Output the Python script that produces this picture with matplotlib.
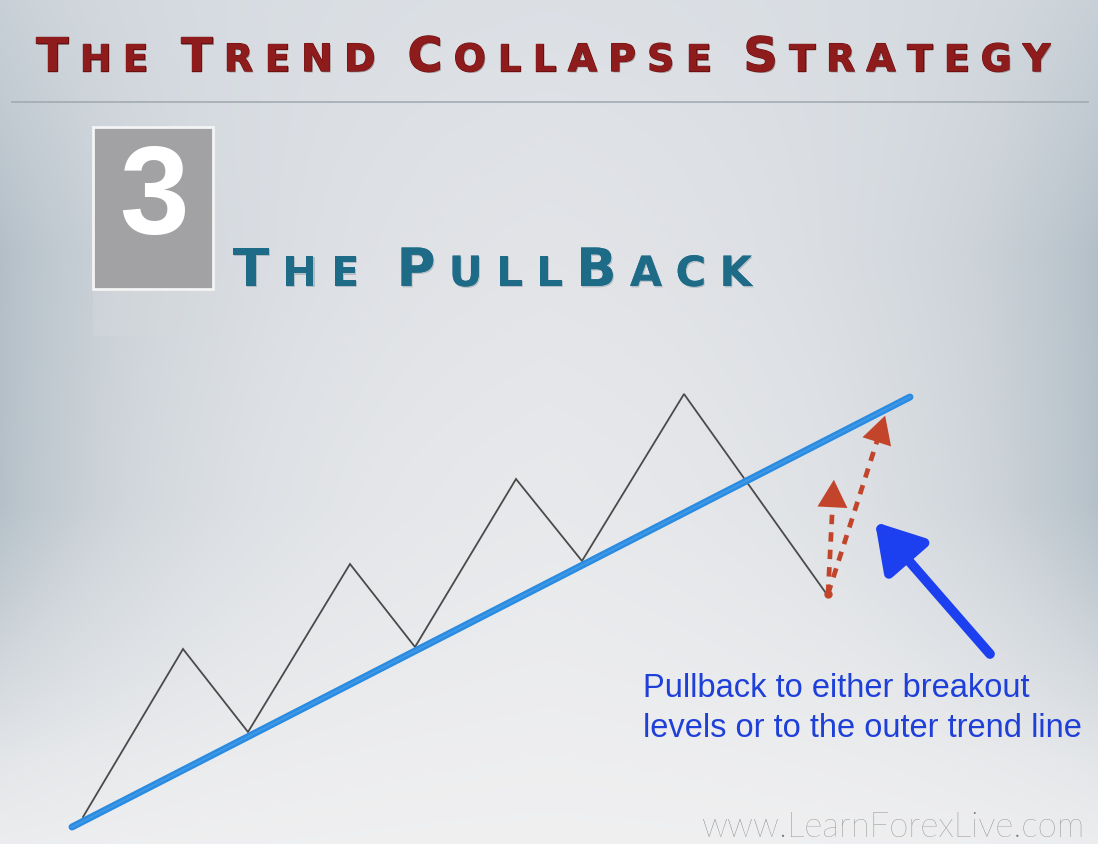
import numpy as np
import matplotlib
matplotlib.use("Agg")
import matplotlib.pyplot as plt
from matplotlib import patheffects as pe
from matplotlib.patches import Rectangle

# ---------------- data (pixel-like layout units, y grows downward) ----------------
zig_x = [83, 183, 248, 350, 415, 516, 582, 684, 828]
zig_y = [818, 650, 733, 565, 648, 480, 562, 395, 597]

trend_x = [72, 910]
trend_y = [828, 398]

pull_start = (828, 595)
pull_targets_x = [834, 886]
pull_targets_y = [478, 414]

blue_arrow_from = (990, 655)
blue_arrow_to = (875, 523)

title_text = "The Trend Collapse Strategy"
subtitle_text = "The PullBack"
step_number = "3"
note_lines = ["Pullback to either breakout", "levels or to the outer trend line"]
url_text = "www.LearnForexLive.com"

W, H = 1098, 845
fig = plt.figure(figsize=(W / 100, H / 100), dpi=100)
ax = fig.add_axes([0, 0, 1, 1])
ax.set_xlim(0, W)
ax.set_ylim(H, 0)
ax.axis("off")

# ---------------- background gradient ----------------
yy, xx = np.mgrid[0:1:420j, 0:1:540j]
ys = np.array([0.0, 0.3, 0.55, 1.0])
cr = np.array([0.865, 0.895, 0.915, 0.94])
cg = np.array([0.880, 0.900, 0.918, 0.94])
cb = np.array([0.900, 0.915, 0.928, 0.945])
base = np.stack([np.interp(yy, ys, cr), np.interp(yy, ys, cg), np.interp(yy, ys, cb)], axis=-1)
edge = np.array([0.64, 0.70, 0.74])
d = np.minimum(xx, 1 - xx)
hfall = np.exp(-d / 0.16)
vband = np.interp(yy, [0.0, 0.12, 0.3, 0.6, 0.75, 0.9, 1.0], [0.35, 0.5, 0.75, 0.75, 0.45, 0.15, 0.05])
w_edge = np.clip(hfall * vband, 0, 1)[..., None]
img = base * (1 - w_edge) + edge * w_edge
ax.imshow(np.clip(img, 0, 1), extent=[0, W, H, 0], aspect="auto", zorder=0, interpolation="bicubic")

fig.canvas.draw()
renderer = fig.canvas.get_renderer()


def small_caps(text, x0, x1, y, big, small, color, family, weight, effects=None, space_factor=0.35):
    items = []
    words = text.split(" ")
    for wi, word in enumerate(words):
        for ch in word:
            size = big if ch.isupper() else small
            items.append((ch.upper(), size))
        if wi < len(words) - 1:
            items.append((" ", small))
    objs, widths = [], []
    for ch, size in items:
        t = ax.text(0, y, ch if ch != " " else "\u00a0", fontsize=size, color=color,
                    family=family, weight=weight, ha="left", va="baseline", zorder=5)
        if effects:
            t.set_path_effects(effects)
        objs.append(t)
        widths.append(t.get_window_extent(renderer).width if ch != " " else size * space_factor)
    gap = (x1 - x0 - sum(widths)) / (len(items) - 1)
    x = x0
    for t, wdt in zip(objs, widths):
        t.set_x(x)
        x += wdt + gap


title_fx = [pe.withSimplePatchShadow(offset=(1, -1), shadow_rgbFace="#3a0a0a", alpha=0.35),
            pe.withStroke(linewidth=1.0, foreground="#6a1010"), pe.Normal()]
small_caps(title_text, 36, 1050, 72, 34, 27, "#8e1c1c", "DejaVu Sans", "bold", title_fx)

ax.plot([12, 1088], [103, 103], color="#a3abb2", lw=1.2, zorder=3)

# ---------------- step box ----------------
ax.add_patch(Rectangle((93, 128), 120, 162, facecolor="#a2a2a4", edgecolor="#f4f4f4", lw=2, zorder=4))
ax.add_patch(Rectangle((93, 292), 120, 45, facecolor="#d6dadd", edgecolor="none", alpha=0.4, zorder=3))
ax.text(154, 202, step_number, fontsize=90, color="white", family="Liberation Sans", weight="bold",
        ha="center", va="center", zorder=6)

sub_fx = [pe.withSimplePatchShadow(offset=(0.8, -1), shadow_rgbFace="#0b3040", alpha=0.2), pe.Normal()]
small_caps(subtitle_text, 233, 752, 287, 38, 30, "#1e6b88", "DejaVu Sans", "bold", sub_fx)

# ---------------- chart lines ----------------
ax.plot(zig_x, zig_y, color="#4a4a4a", lw=1.3, zorder=6, solid_joinstyle="miter")
ax.plot(trend_x, trend_y, color="#2a8be0", lw=5, zorder=7, solid_capstyle="round")
ax.plot(trend_x, trend_y, color="#4aa2ec", lw=1.5, zorder=7, alpha=0.6)

red = "#c2452b"
for tx, ty in zip(pull_targets_x, pull_targets_y):
    dx, dy = tx - pull_start[0], ty - pull_start[1]
    L = np.hypot(dx, dy)
    ux, uy = dx / L, dy / L
    ax.plot([pull_start[0], tx - ux * 14], [pull_start[1], ty - uy * 14], color=red, lw=3.4,
            ls=(0, (2.0, 1.7)), zorder=8)
    ax.annotate("", xy=(tx, ty), xytext=(tx - ux * 16, ty - uy * 16),
                arrowprops=dict(arrowstyle="-|>,head_length=1.1,head_width=0.6", color=red, lw=0,
                                mutation_scale=18), zorder=9)
ax.plot([pull_start[0]], [pull_start[1]], marker="o", ms=5, color=red, zorder=9)

ax.annotate("", xy=blue_arrow_to, xytext=blue_arrow_from,
            arrowprops=dict(arrowstyle="-|>,head_length=1.4,head_width=0.85", color="#1c3ff0",
                            lw=7, mutation_scale=20, shrinkA=0, shrinkB=0), zorder=9)

# ---------------- texts ----------------
ax.text(643, 697, note_lines[0], fontsize=23.5, color="#1f40d8", family="Liberation Sans",
        ha="left", va="baseline", zorder=10)
ax.text(643, 737, note_lines[1], fontsize=23.5, color="#1f40d8", family="Liberation Sans",
        ha="left", va="baseline", zorder=10)

ax.text(1085, 837, url_text, fontsize=25, color="#7c7c7c", family="Lato", weight="light",
        ha="right", va="baseline", zorder=10)

fig.savefig("out.png", dpi=100)
